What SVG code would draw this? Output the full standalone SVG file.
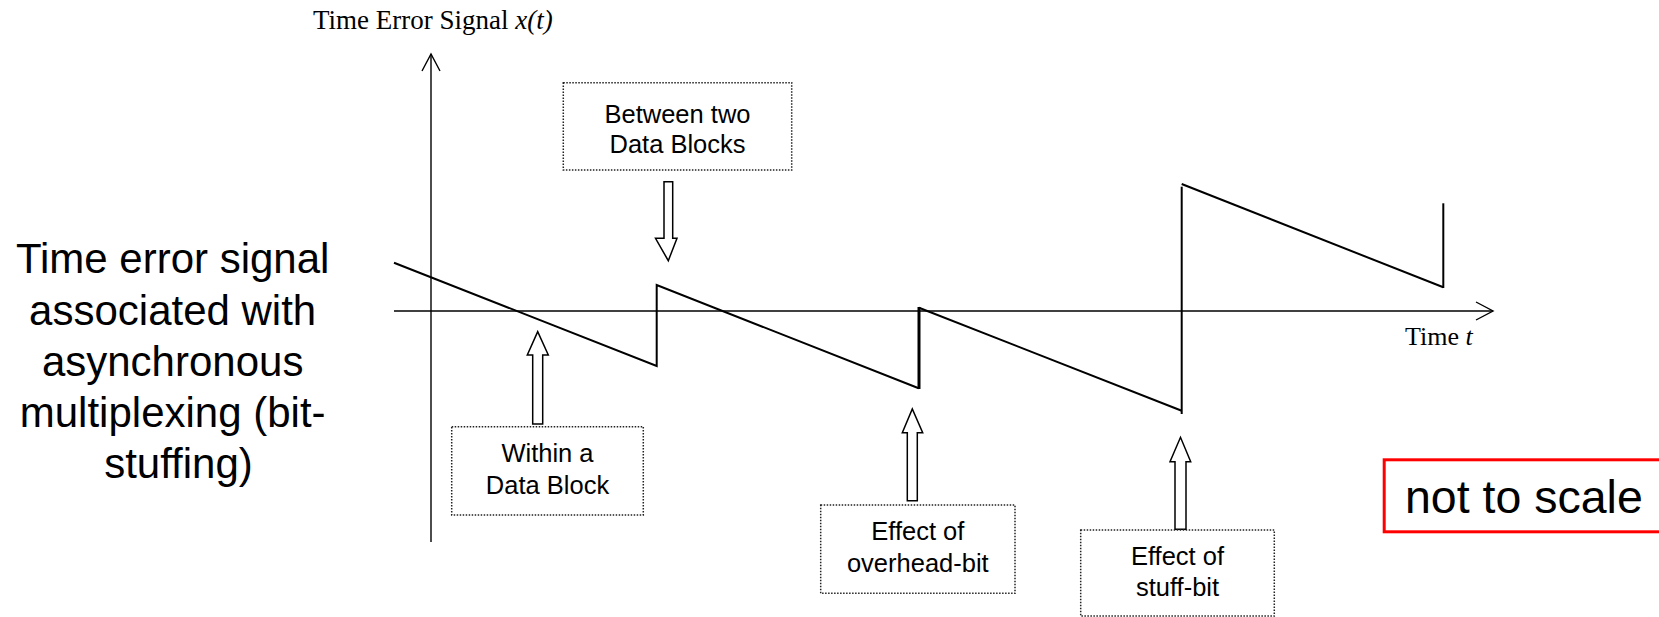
<svg xmlns="http://www.w3.org/2000/svg" width="1659" height="617" viewBox="0 0 1659 617">
  <style>
    .axis { stroke: #000; stroke-width: 1.4; fill: none; }
    .wave { stroke: #000; stroke-width: 2; fill: none; stroke-linejoin: miter; }
    .note { fill: #fff; stroke: #222; stroke-width: 1.5; stroke-dasharray: 1.5 1.5; }
    .hollow { fill: #fff; stroke: #000; stroke-width: 1.5; stroke-linejoin: miter; }
    .sans { font-family: "Liberation Sans", Arial, sans-serif; fill: #000; }
    .serif { font-family: "Liberation Serif", "Times New Roman", serif; fill: #000; }
    .lbl { font-size: 25.5px; text-anchor: middle; }
  </style>
  <defs>
    <marker id="open" viewBox="0 0 20 20" refX="18" refY="10" markerWidth="20" markerHeight="20" markerUnits="userSpaceOnUse" orient="auto">
      <path d="M1,1 L18,10 L1,19" fill="none" stroke="#000" stroke-width="1.4"/>
    </marker>
  </defs>

  <!-- axes -->
  <g id="axes">
    <line class="axis" x1="431" y1="542" x2="431" y2="54" marker-end="url(#open)"/>
    <line class="axis" x1="394" y1="311" x2="1493" y2="311" marker-end="url(#open)"/>
    <text class="serif" x="313" y="29" font-size="27">Time Error Signal <tspan font-style="italic">x(t)</tspan></text>
    <text class="serif" x="1405" y="345" font-size="26">Time <tspan font-style="italic">t</tspan></text>
  </g>

  <!-- time error sawtooth -->
  <g id="signal">
    <polyline class="wave" points="394,262.7 656.7,366 656.7,285 918.7,388.3"/>
    <line x1="919" y1="389" x2="919" y2="307" stroke="#000" stroke-width="3"/>
    <polyline class="wave" points="919,307.7 1181.7,410.7"/>
    <line class="wave" x1="1181.7" y1="414" x2="1181.7" y2="186.7"/>
    <polyline class="wave" points="1181.7,184 1443.3,287.3"/>
    <line class="wave" x1="1443.3" y1="288" x2="1443.3" y2="203.3"/>
  </g>

  <!-- pointer arrows -->
  <g id="connectors">
    <path class="hollow" d="M664,181.7 L672.7,181.7 L672.7,238.3 L677,238.3 L668.3,260.7 L655.5,238.3 L664,238.3 Z"/>
    <path class="hollow" d="M532.7,424 L542.7,424 L542.7,355 L548.3,355 L537.7,331.7 L527.3,355 L532.7,355 Z"/>
    <path class="hollow" d="M907.3,500.7 L917.3,500.7 L917.3,432.7 L922.7,432.7 L912.3,409 L902.3,432.7 L907.3,432.7 Z"/>
    <path class="hollow" d="M1175,529.3 L1186,529.3 L1186,461.7 L1190.7,461.7 L1180.5,437.3 L1170,461.7 L1175,461.7 Z"/>
  </g>

  <g id="between-blocks">
    <rect class="note" x="563.3" y="82.7" width="228.4" height="87.3"/>
    <text class="sans lbl" x="677.5" y="123">Between two</text>
    <text class="sans lbl" x="677.5" y="152.5">Data Blocks</text>
  </g>

  <g id="within-block">
    <rect class="note" x="451.7" y="426.7" width="191.6" height="88.3"/>
    <text class="sans lbl" x="547.5" y="462.3">Within a</text>
    <text class="sans lbl" x="547.5" y="494.3">Data Block</text>
  </g>

  <g id="overhead-bit">
    <rect class="note" x="820.7" y="505" width="194.3" height="88.3"/>
    <text class="sans lbl" x="917.8" y="539.5">Effect of</text>
    <text class="sans lbl" x="917.8" y="571.5">overhead-bit</text>
  </g>

  <g id="stuff-bit">
    <rect class="note" x="1080.7" y="530" width="193.6" height="86"/>
    <text class="sans lbl" x="1177.5" y="564.5">Effect of</text>
    <text class="sans lbl" x="1177.5" y="596">stuff-bit</text>
  </g>

  <g id="caption">
    <text class="sans" font-size="42" text-anchor="middle" x="178.5">
      <tspan x="178.5" y="273">Time error signal</tspan>
      <tspan x="178.5" y="324.5">associated with</tspan>
      <tspan x="178.5" y="376">asynchronous</tspan>
      <tspan x="178.5" y="427">multiplexing (bit-</tspan>
      <tspan x="178.5" y="478">stuffing)</tspan>
    </text>
  </g>

  <g id="scale-note">
    <rect x="1384.2" y="459.8" width="300" height="72" fill="none" stroke="#ff0000" stroke-width="3"/>
    <text class="sans" font-size="46.5" x="1405" y="513.3">not to scale</text>
  </g>
</svg>
